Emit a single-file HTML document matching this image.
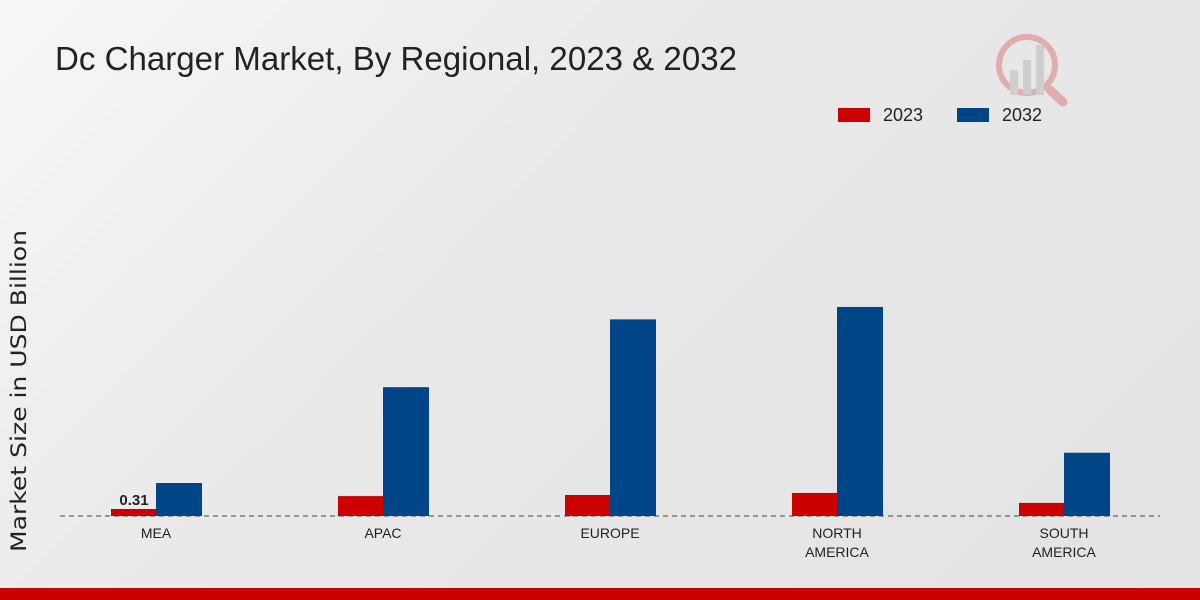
<!DOCTYPE html>
<html><head><meta charset="utf-8"><style>
body{margin:0;width:1200px;height:600px;overflow:hidden;font-family:"Liberation Sans",sans-serif}
#bg{position:absolute;left:0;top:0;width:1200px;height:600px;background:linear-gradient(135deg,#f7f7f7 0%,#e9e9e9 40%,#e3e3e3 100%)}
</style></head><body>
<div id="bg"></div>
<svg id="c" width="1200" height="600" style="position:absolute;left:0;top:0">
<text x="55" y="70" font-size="33" fill="#222" font-family="Liberation Sans Narrow, Liberation Sans, sans-serif" textLength="682" lengthAdjust="spacingAndGlyphs">Dc Charger Market, By Regional, 2023 &amp; 2032</text>
<text transform="translate(26,391) rotate(-90)" text-anchor="middle" font-size="21" fill="#222" font-family="DejaVu Sans, sans-serif" textLength="322" lengthAdjust="spacingAndGlyphs">Market Size in USD Billion</text>
<g>
<rect x="838" y="108" width="32" height="14" fill="#cc0000"/>
<text x="883" y="121" font-size="18" fill="#222">2023</text>
<rect x="957" y="108" width="32" height="14" fill="#004587"/>
<text x="1002" y="121" font-size="18" fill="#222">2032</text>
</g>
<g opacity="0.25">
<circle cx="1027" cy="65" r="28" fill="none" stroke="#cc0000" stroke-width="6"/>
<rect x="1010" y="70" width="8" height="25" fill="#888"/><rect x="1023" y="60" width="8" height="35" fill="#888"/><rect x="1036" y="45" width="8" height="50" fill="#888"/>
<line x1="1050" y1="90" x2="1063" y2="102" stroke="#cc0000" stroke-width="9" stroke-linecap="round"/>
</g>
<line x1="60" y1="516" x2="1160" y2="516" stroke="#444" stroke-dasharray="5,4"/>
<g id="bars"></g>
<rect x="0" y="588" width="1200" height="12" fill="#cc0000"/>
</svg>
<script>
const categories=[["MEA"],["APAC"],["EUROPE"],["NORTH","AMERICA"],["SOUTH","AMERICA"]];
const values2023=[0.31,0.88,0.93,1.02,0.58];
const values2032=[1.46,5.7,8.7,9.25,2.8];
const labels2023=["0.31",null,null,null,null];
const NS="http://www.w3.org/2000/svg";
const base=516,scale=22.6;
const xc=i=>156+i*227;
const y=v=>base-v*scale;
const g=document.getElementById('bars');
function mk(t,a){const e=document.createElementNS(NS,t);for(const k in a)e.setAttribute(k,a[k]);return e;}
categories.forEach((c,i)=>{
 const r1=mk('rect',{x:xc(i)-45,y:y(values2023[i]),width:45,height:base-y(values2023[i]),fill:'#cc0000'});
 
 
 g.appendChild(r1);
 const r2=mk('rect',{x:xc(i),y:y(values2032[i]),width:46,height:base-y(values2032[i]),fill:'#004587'});
 
 
 g.appendChild(r2);
 if(labels2023[i]){const t=mk('text',{x:xc(i)-22,y:y(values2023[i])-4,'text-anchor':'middle','font-size':15,'font-weight':'bold',fill:'#222'});t.textContent=labels2023[i];
 
 
 g.appendChild(t);}
 c.forEach((l,j)=>{const t=mk('text',{x:xc(i),y:538+j*19,'text-anchor':'middle','font-size':14,fill:'#222'});t.textContent=l;
 
 
 g.appendChild(t);});
});
</script>
</body></html>
